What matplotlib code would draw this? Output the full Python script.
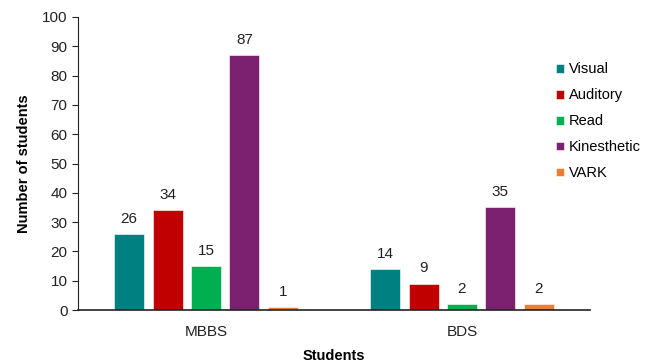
import numpy as np
import matplotlib.pyplot as plt

plt.rcParams['font.family'] = ['Liberation Sans', 'DejaVu Sans']

groups = ['MBBS', 'BDS']
series = ['Visual', 'Auditory', 'Read', 'Kinesthetic', 'VARK']
values = {
    'Visual': [26, 14],
    'Auditory': [34, 9],
    'Read': [15, 2],
    'Kinesthetic': [87, 35],
    'VARK': [1, 2],
}
colors = ['#008080', '#C00000', '#00B050', '#7B2170', '#ED7D31']

fig = plt.figure(figsize=(6.52, 3.64), dpi=100)
ax = fig.add_axes([78/652, 54/364, 512/652, 293/364])

x = np.arange(len(groups))
step = 0.15
width = 0.117
for i, name in enumerate(series):
    pos = x + (i - 2) * step
    bars = ax.bar(pos, values[name], width, color=colors[i], label=name,
                  edgecolor='white', linewidth=0.4)
    for b, v in zip(bars, values[name]):
        ax.text(b.get_x() + b.get_width() / 2, v + 2.8, str(v),
                ha='center', va='bottom', fontsize=11, color='#222222')

ax.set_xlim(-0.5, 1.5)
ax.set_ylim(0, 100)
ax.set_yticks(range(0, 101, 10))
ax.set_xticks(x)
ax.set_xticklabels(groups)
ax.tick_params(axis='x', length=0, labelsize=11, pad=11, colors='#222222')
ax.tick_params(axis='y', length=4, labelsize=11, colors='#222222', direction='out')
for s in ['top', 'right']:
    ax.spines[s].set_visible(False)
ax.spines['left'].set_color('#222222')
ax.spines['bottom'].set_color('#222222')
ax.spines['bottom'].set_linewidth(1.2)

ax.set_ylabel('Number of students', fontweight='bold', fontsize=10.5, labelpad=8)
ax.set_xlabel('Students', fontweight='bold', fontsize=10.5, labelpad=7)

ax.legend(loc='upper left', bbox_to_anchor=(0.922, 0.865), frameon=False,
          fontsize=10.5, handlelength=0.55, handleheight=0.55, handletextpad=0.35,
          labelspacing=0.82, borderaxespad=0)

fig.savefig('out.png', dpi=100)
